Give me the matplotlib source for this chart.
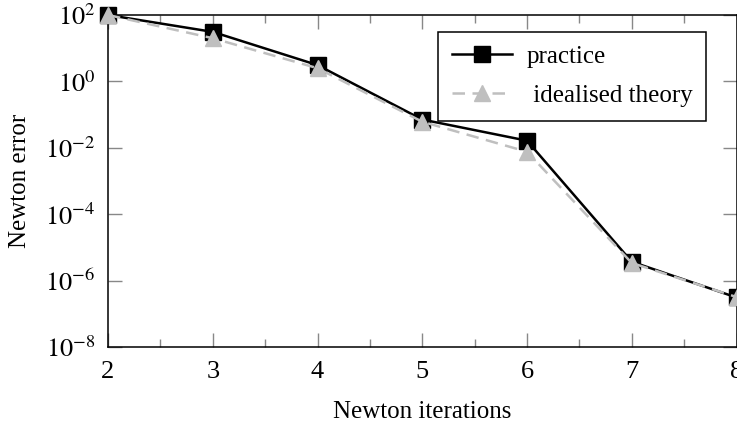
import numpy as np
import matplotlib
matplotlib.use('Agg')
import matplotlib.pyplot as plt
from matplotlib.ticker import FixedLocator, NullLocator

plt.rcParams['font.family'] = ['Liberation Serif', 'DejaVu Serif']
plt.rcParams['mathtext.fontset'] = 'stix'

iterations = [2, 3, 4, 5, 6, 7, 8]
practice = [100, 31, 3.1, 0.071, 0.0164, 3.7e-6, 3.1e-7]
theory = [100, 20, 2.5, 0.061, 0.0076, 3.4e-6, 3.2e-7]
yticks = [1e-8, 1e-6, 1e-4, 1e-2, 1e0, 1e2]
ytick_labels = [r'$10^{-8}$', r'$10^{-6}$', r'$10^{-4}$', r'$10^{-2}$', r'$10^{0}$', r'$10^{2}$']

fig = plt.figure(figsize=(7.37, 4.24), dpi=100)
ax = fig.add_axes([108/737, 77/424, 628.5/737, 332/424])

ax.plot(iterations, practice, color='black', lw=1.8, marker='s', ms=11,
        mfc='black', mec='black', label='practice', clip_on=False, zorder=3)
ax.plot(iterations, theory, color='#bfbfbf', lw=1.8, ls=(0, (5, 3)), marker='^',
        ms=11, mfc='#bfbfbf', mec='#bfbfbf', label=' idealised theory',
        clip_on=False, zorder=4)

ax.set_yscale('log')
ax.set_xlim(2, 8)
ax.set_ylim(1e-8, 1e2)
ax.set_xticks(iterations)
ax.xaxis.set_minor_locator(FixedLocator(np.arange(2.5, 8, 1.0)))
ax.set_yticks(yticks)
ax.set_yticklabels(ytick_labels)
ax.yaxis.set_minor_locator(NullLocator())

ax.tick_params(which='both', direction='in', top=True, right=True,
               color='#888888', width=1.0, labelsize=19)
ax.tick_params(which='major', length=10)
ax.tick_params(which='minor', length=6)
ax.tick_params(axis='x', which='major', pad=10)
ax.tick_params(axis='y', which='major', pad=9)
for s in ax.spines.values():
    s.set_linewidth(1.1)

ax.set_xlabel('Newton iterations', fontsize=18, labelpad=13)
ax.set_ylabel('Newton error', fontsize=18, labelpad=10)

leg = ax.legend(loc='upper right', bbox_to_anchor=(0.952, 0.949), borderaxespad=0,
                fontsize=18, frameon=True, fancybox=False, framealpha=1,
                edgecolor='black', handlelength=2.4, handletextpad=0.6,
                borderpad=0.55, labelspacing=0.65)
leg.get_frame().set_linewidth(1.1)

fig.savefig('out.png', dpi=100)
